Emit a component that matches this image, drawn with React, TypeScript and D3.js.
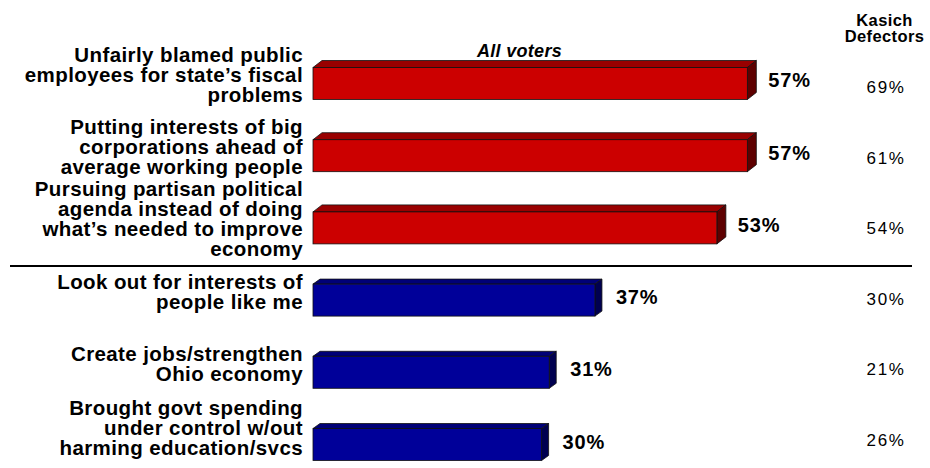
import React from "react";
import * as d3 from "d3";

const categories: string[][] = [
  ["Unfairly blamed public", "employees for state\u2019s fiscal", "problems"],
  ["Putting interests of big", "corporations ahead of", "average working people"],
  ["Pursuing partisan political", "agenda instead of doing", "what\u2019s needed to improve", "economy"],
  ["Look out for interests of", "people like me"],
  ["Create jobs/strengthen", "Ohio economy"],
  ["Brought govt spending", "under control w/out", "harming education/svcs"],
];
const allVoters: number[] = [57, 57, 53, 37, 31, 30];
const kasichDefectors: number[] = [69, 61, 54, 30, 21, 26];
const groups: string[] = ["neg", "neg", "neg", "pos", "pos", "pos"];
const seriesTitle = "All voters";
const columnTitle = ["Kasich", "Defectors"];

const W = 930;
const H = 468;
const FONT = "Arial, 'Liberation Sans', Helvetica, sans-serif";

const style: Record<string, { front: string; top: string; side: string; dx: number; dy: number }> = {
  neg: { front: "#CC0000", top: "#990000", side: "#5E0000", dx: 9, dy: 7 },
  pos: { front: "#000099", top: "#000077", side: "#000050", dx: 7, dy: 5 },
};

export default function App() {
  const ids = categories.map((_, i) => String(i));
  const y = d3.scaleBand<string>().domain(ids).range([67.5, 460.5]).paddingInner(0.557).paddingOuter(0);
  const x = d3.scaleLinear().domain([0, 100]).range([313, 1075]);
  const ky = d3.scalePoint<string>().domain(ids).range([93, 446]);
  const bw = y.bandwidth();
  const lineH = 20;

  const divY = ((y("2") as number) + bw + (y("3") as number)) / 2 + 2;

  return (
    <div style={{ position: "fixed", left: 0, top: 0, width: W, height: H, overflow: "hidden", background: "#fff" }}>
      <svg width={W} height={H} style={{ display: "block", fontFamily: FONT }}>
        <rect width={W} height={H} fill="#fff" />
        <text x={519.5} y={56.5} textAnchor="middle" fontSize={18} fontWeight="bold" fontStyle="italic" letterSpacing={0.3} fill="#000">
          {seriesTitle}
        </text>
        {columnTitle.map((t, i) => (
          <text key={t} x={884.5} y={26 + i * 15.5} textAnchor="middle" fontSize={16.5} fontWeight="bold" letterSpacing={0.4} fill="#000">
            {t}
          </text>
        ))}
        <line x1={10} x2={912} y1={divY} y2={divY} stroke="#000" strokeWidth={2} />
        {categories.map((lines, i) => {
          const id = String(i);
          const s = style[groups[i]];
          const yt = y(id) as number;
          const yb = yt + bw;
          const x0 = x(0);
          const x1 = x(allVoters[i]);
          const cy = yt + bw / 2;
          const textCenter = cy - 9;
          let firstBase = textCenter - ((lines.length - 1) * lineH) / 2 + 7.5;
          const lastBase = firstBase + (lines.length - 1) * lineH;
          if (lastBase > H - 13) firstBase -= lastBase - (H - 13);
          const top = `${x0},${yt} ${x0 + s.dx},${yt - s.dy} ${x1 + s.dx},${yt - s.dy} ${x1},${yt}`;
          const side = `${x1},${yt} ${x1 + s.dx},${yt - s.dy} ${x1 + s.dx},${yb - s.dy} ${x1},${yb}`;
          return (
            <g key={id}>
              <text textAnchor="end" fontSize={20.5} fontWeight="bold" letterSpacing={0.4} fill="#000">
                {lines.map((l, j) => (
                  <tspan key={j} x={303} y={firstBase + j * lineH}>
                    {l}
                  </tspan>
                ))}
              </text>
              <polygon points={top} fill={s.top} stroke="#111" strokeWidth={0.8} strokeLinejoin="round" />
              <polygon points={side} fill={s.side} stroke="#111" strokeWidth={0.8} strokeLinejoin="round" />
              <rect x={x0} y={yt} width={x1 - x0} height={bw} fill={s.front} stroke="#111" strokeWidth={0.8} />
              <text x={x1 + 21} y={cy + 4} fontSize={20} fontWeight="bold" letterSpacing={0.8} fill="#000">
                {allVoters[i]}%
              </text>
              <text x={886} y={ky(id) as number} textAnchor="middle" fontSize={17} letterSpacing={1.6} fill="#000">
                {kasichDefectors[i]}%
              </text>
            </g>
          );
        })}
      </svg>
    </div>
  );
}
